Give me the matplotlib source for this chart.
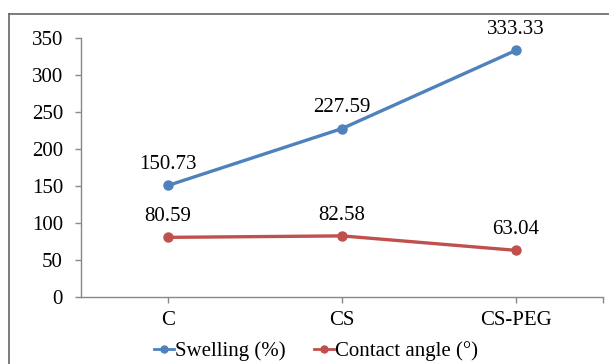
import matplotlib.pyplot as plt
from matplotlib.lines import Line2D

categories = ["C", "CS", "CS-PEG"]
swelling = [150.73, 227.59, 333.33]
contact_angle = [80.59, 82.58, 63.04]
yticks = [0, 50, 100, 150, 200, 250, 300, 350]

plt.rcParams['font.family'] = ['Liberation Serif', 'DejaVu Serif']

W, H = 609, 364
fig = plt.figure(figsize=(W / 100, H / 100), dpi=100)
ax = fig.add_axes([81 / W, 1 - 297 / H, (603 - 81) / W, (297 - 38) / H])

blue = "#4F81BD"
red = "#C0504D"
x = range(len(categories))
ax.plot(x, swelling, color=blue, lw=2.4, marker="o", ms=6.5, label="Swelling (%)")
ax.plot(x, contact_angle, color=red, lw=2.4, marker="o", ms=6.5, label="Contact angle (°)")

for xi, v in zip(x, swelling):
    ax.annotate(f"{v:.2f}", (xi, v), xytext=(0, 8), textcoords="offset points",
                ha="center", va="bottom", fontsize=15)
for xi, v in zip(x, contact_angle):
    ax.annotate(f"{v:.2f}", (xi, v), xytext=(0, 8), textcoords="offset points",
                ha="center", va="bottom", fontsize=15)

ax.set_xlim(-0.5, 2.5)
ax.set_ylim(0, 350)
ax.set_yticks(yticks)
ax.set_xticks(list(x) + [2.5])
ax.set_xticklabels(categories + [""])
ax.tick_params(axis="both", labelsize=15, color="#888888", length=4, width=1)
ax.tick_params(axis="y", pad=9)
ax.tick_params(axis="x", pad=6)
for s in ["top", "right"]:
    ax.spines[s].set_visible(False)
for s in ["left", "bottom"]:
    ax.spines[s].set_color("#888888")
    ax.spines[s].set_linewidth(1)

# outer chart border
fig.add_artist(Line2D([8.5 / W, 8.5 / W], [0, 1 - 13.5 / H], transform=fig.transFigure,
                      color="#666666", lw=1.2))
fig.add_artist(Line2D([8.5 / W, 1], [1 - 13.5 / H, 1 - 13.5 / H], transform=fig.transFigure,
                      color="#666666", lw=1.2))

handles = [Line2D([], [], color=blue, lw=2, marker="o", ms=5),
           Line2D([], [], color=red, lw=2, marker="o", ms=5)]
fig.legend(handles, ["Swelling (%)", "Contact angle (°)"], loc="center",
           bbox_to_anchor=(316 / W, 1 - 351 / H), ncol=2, frameon=False,
           fontsize=15, handlelength=0.95, handletextpad=0.05, columnspacing=1.35,
           borderaxespad=0, borderpad=0)

fig.savefig("out.png", dpi=100)
